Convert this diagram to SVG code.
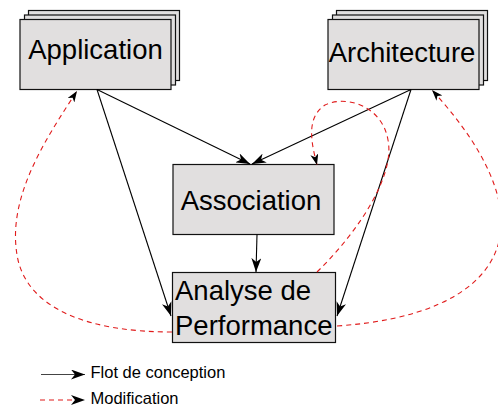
<svg xmlns="http://www.w3.org/2000/svg" width="498" height="408" viewBox="0 0 498 408">
<style>
.box{fill:#e1dfdf;stroke:#111;stroke-width:1.2}
.lbl{font-family:"Liberation Sans",Arial,sans-serif;font-size:27.5px;fill:#000}
.leg{font-family:"Liberation Sans",Arial,sans-serif;font-size:16.5px;fill:#000}
.flow{fill:none;stroke:#000;stroke-width:1.1}
.mod{fill:none;stroke:#e01b1b;stroke-width:1.1;stroke-dasharray:5,4}
</style>
<defs>
<marker id="ah" viewBox="0 0 14 10" refX="14" refY="5" markerWidth="14" markerHeight="10" orient="auto" markerUnits="userSpaceOnUse"><path d="M0,0 L14,5 L0,10 L4,5 z" fill="#000"/></marker>
<marker id="ahs" viewBox="0 0 11 8" refX="11" refY="4" markerWidth="11" markerHeight="8" orient="auto" markerUnits="userSpaceOnUse"><path d="M0,0 L11,4 L0,8 L3,4 z" fill="#000"/></marker>
</defs>
<g id="application">
<rect class="box" x="28.5" y="10.5" width="151" height="70"/>
<rect class="box" x="24.5" y="15" width="151" height="70"/>
<rect class="box" x="20" y="19.5" width="151" height="70"/>
<text class="lbl" x="95.5" y="58.5" text-anchor="middle">Application</text>
</g>
<g id="architecture">
<rect class="box" x="336.5" y="10.5" width="151" height="70"/>
<rect class="box" x="332.5" y="15" width="151" height="70"/>
<rect class="box" x="328" y="19.5" width="151" height="70"/>
<text class="lbl" x="402" y="61.5" text-anchor="middle">Architecture</text>
</g>
<g id="association">
<rect class="box" x="173" y="164.5" width="161" height="70"/>
<text class="lbl" x="251" y="209.5" text-anchor="middle">Association</text>
</g>
<g id="analyse">
<rect class="box" x="172.5" y="272.5" width="163" height="70"/>
<text class="lbl" x="175" y="299.5">Analyse de</text>
<text class="lbl" x="175" y="334.5">Performance</text>
</g>
<g id="connectors">
<path class="flow" d="M97,89.5 L250,164" marker-end="url(#ah)"/>
<path class="flow" d="M411,89.5 L252,164" marker-end="url(#ah)"/>
<path class="flow" d="M97,89.5 L171,316" marker-end="url(#ah)"/>
<path class="flow" d="M411,89.5 L337,316" marker-end="url(#ah)"/>
<path class="flow" d="M257,234.5 L256,272" marker-end="url(#ah)"/>
<path class="mod" d="M172,332 C90,332 30,310 18,260 C5,200 45,140 77,91" marker-end="url(#ahs)"/>
<path class="mod" d="M317,272 C360,230 395,175 388,140 C382,105 345,95 325,105 C305,118 312,145 317,165" marker-end="url(#ahs)"/>
<path class="mod" d="M337,326 C500,315 560,230 432,90" marker-end="url(#ahs)"/>
</g>
<g id="legend">
<path d="M41,374.5 L85,374.5" fill="none" stroke="#444" stroke-width="1.1" marker-end="url(#ah)"/>
<text class="leg" x="90.5" y="377.5">Flot de conception</text>
<path class="mod" d="M40,400 L85,400" marker-end="url(#ah)"/>
<text class="leg" x="90.5" y="403.5">Modification</text>
</g>
</svg>
